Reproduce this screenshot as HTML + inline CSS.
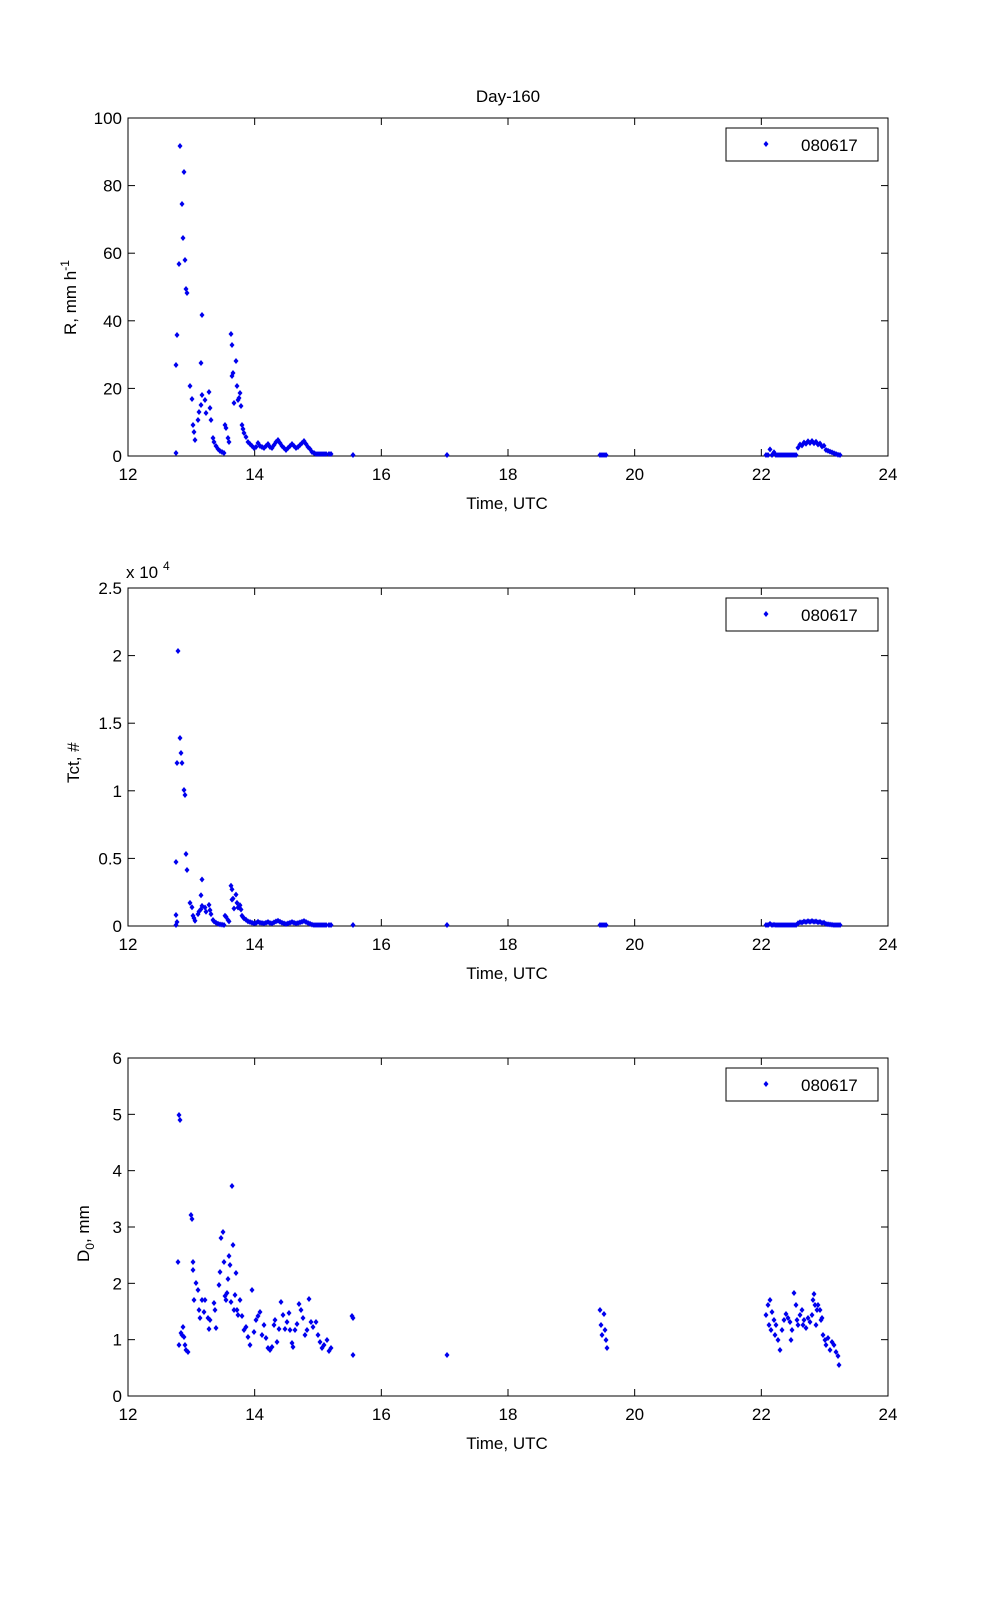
<!DOCTYPE html>
<html><head><meta charset="utf-8"><style>
body{margin:0;background:#fff;}
svg text{font-family:"Liberation Sans",sans-serif;font-size:17px;fill:#000;}
</style></head><body>
<svg id="s" width="1001" height="1600" xmlns="http://www.w3.org/2000/svg">
<rect width="1001" height="1600" fill="#fff"/>
<text x="508" y="102" text-anchor="middle">Day-160</text>
<g id="axes"></g>
<g id="pts" fill="#0000ee"></g>
</svg>
<script>
var NS="http://www.w3.org/2000/svg",ax=document.getElementById('axes'),pg=document.getElementById('pts');
function el(t,a,txt,p){var e=document.createElementNS(NS,t);for(var k in a)e.setAttribute(k,a[k]);if(txt!=null)e.textContent=txt;(p||ax).appendChild(e);return e;}
var X0=128,X1=888;
function dot(x,y){el('path',{d:'M'+x+' '+(y-3)+'L'+(x+2.5)+' '+y+'L'+x+' '+(y+3)+'L'+(x-2.5)+' '+y+'Z'},null,pg);}
function axis(top,bot,ylabels){
 el('rect',{x:X0,y:top,width:X1-X0,height:bot-top,fill:'none',stroke:'#000','stroke-width':1});
 for(var i=0;i<=6;i++){var x=X0+i*(X1-X0)/6;
  el('line',{x1:x,y1:bot,x2:x,y2:bot-7,stroke:'#000'});el('line',{x1:x,y1:top,x2:x,y2:top+7,stroke:'#000'});
  el('text',{x:x,y:bot+24,'text-anchor':'middle'},String(12+2*i));}
 var n=ylabels.length-1;
 for(var j=0;j<=n;j++){var y=bot-j*(bot-top)/n;
  el('line',{x1:X0,y1:y,x2:X0+7,y2:y,stroke:'#000'});el('line',{x1:X1,y1:y,x2:X1-7,y2:y,stroke:'#000'});
  el('text',{x:X0-6,y:y+6,'text-anchor':'end'},ylabels[j]);}
 el('text',{x:507,y:bot+53,'text-anchor':'middle'},'Time, UTC');
 el('rect',{x:726,y:top+10,width:152,height:33,fill:'#fff',stroke:'#000'});
 el('text',{x:801,y:top+33},'080617');
 dot(766,top+26);
}
axis(118,456,['0','20','40','60','80','100']);
axis(588,926,['0','0.5','1','1.5','2','2.5']);
axis(1058,1396,['0','1','2','3','4','5','6']);
el('text',{x:126,y:578},'x 10');el('text',{x:163,y:570,style:'font-size:12px'},'4');
var t=el('text',{transform:'translate(76,335) rotate(-90)'},'R, mm h');
el('tspan',{dy:-7,style:'font-size:12px'},'-1',t);
el('text',{transform:'translate(79,783) rotate(-90)'},'Tct, #');
var t3=el('text',{transform:'translate(89,1262) rotate(-90)'},'D');
el('tspan',{dy:5,style:'font-size:12px'},'0',t3);el('tspan',{dy:-5},', mm',t3);
var p1=[[176,453],[176,365],[177,335],[179,264],[180,146],[182,204],[183,238],[184,172],[185,260],[186,289],[187,293],[190,386],[192,399],[193,425],[194,432],[195,440],[198,420],[199,412],[201,405],[202,395],[201,363],[202,315],[205,400],[206,413],[209,392],[210,408],[211,420],[213,438],[214,442],[216,446],[218,449],[220,451],[222,452],[224,453],[225,425],[226,428],[228,438],[229,442],[231,334],[232,345],[236,361],[233,373],[232,376],[234,403],[237,386],[238,400],[239,398],[240,393],[241,406],[242,425],[243,429],[244,433],[246,437],[248,442],[250,444],[252,446],[254,448],[256,447],[258,443],[260,446],[262,447],[264,448],[266,446],[268,444],[270,447],[272,448],[274,445],[276,442],[278,440],[280,443],[282,446],[284,448],[286,450],[288,448],[290,446],[292,444],[294,446],[296,448],[298,447],[300,445],[302,443],[304,441],[306,444],[308,447],[310,449],[312,452],[314,453],[316,454],[318,454],[320,454],[322,454],[324,454],[326,454],[329,454],[331,454],[353,455],[447,455],[600,455],[602,455],[604,455],[606,455]];
for(var x=766;x<=840;x+=2){var v=455;if(x>768&&x<776)v=455-((x-766)%6)*1.4;if(x>796&&x<826)v=447-Math.sin((x-796)/30*Math.PI)*6+((x%4)?2:0);if(x>=826)v=450+(x-826)*0.4;p1.push([x,Math.min(455,v)]);}
p1.forEach(function(p){dot(p[0],p[1]);});
var pk=[[178,651],[180,738],[181,753],[182,763],[184,790],[185,795],[177,763],[176,862],[186,854],[187,870],[176,915],[177,922]];
pk.forEach(function(p){dot(p[0],p[1]);});
p1.forEach(function(p){if(p[0]<=187&&p[1]<380)return;var d=456-p[1];dot(p[0],Math.min(925,926-d*0.33));});
var p3=[[179,1115],[180,1120],[178,1262],[179,1345],[181,1333],[182,1335],[183,1327],[184,1337],[185,1345],[186,1350],[188,1352],[191,1215],[192,1219],[193,1262],[193,1270],[194,1300],[196,1283],[198,1290],[199,1310],[200,1318],[202,1300],[204,1312],[205,1300],[208,1318],[209,1329],[210,1320],[214,1303],[215,1310],[216,1328],[219,1285],[220,1272],[221,1238],[223,1232],[224,1262],[225,1296],[226,1300],[227,1293],[228,1279],[229,1256],[230,1265],[231,1302],[232,1186],[233,1245],[234,1310],[235,1295],[236,1273],[237,1310],[238,1315],[240,1300],[242,1316],[244,1330],[246,1327],[248,1337],[250,1345],[252,1290],[254,1332],[256,1320],[258,1316],[260,1312],[262,1335],[264,1325],[266,1338],[268,1348],[270,1350],[272,1347],[274,1325],[275,1320],[277,1342],[279,1329],[281,1302],[283,1315],[285,1329],[287,1322],[289,1313],[290,1330],[292,1343],[293,1347],[295,1330],[297,1324],[299,1304],[301,1310],[303,1318],[305,1335],[307,1330],[309,1299],[311,1322],[313,1327],[316,1322],[318,1335],[320,1342],[322,1348],[324,1345],[327,1340],[329,1351],[331,1348],[352,1316],[353,1318],[353,1355],[447,1355],[600,1310],[604,1314],[601,1325],[605,1330],[602,1335],[606,1340],[607,1348]];
var r3=[[766,1315],[768,1305],[769,1325],[770,1300],[771,1330],[772,1312],[774,1320],[775,1335],[776,1325],[778,1340],[780,1350],[782,1330],[784,1320],[786,1314],[788,1318],[790,1322],[791,1340],[792,1330],[794,1293],[796,1305],[797,1320],[798,1325],[800,1315],[802,1310],[803,1325],[804,1320],[806,1328],[808,1318],[810,1322],[812,1315],[813,1300],[814,1294],[815,1305],[816,1325],[817,1310],[818,1305],[820,1310],[821,1320],[822,1318],[823,1335],[825,1340],[826,1345],[828,1338],[830,1350],[832,1342],[834,1345],[836,1352],[838,1356],[839,1365]];
p3.concat(r3).forEach(function(p){dot(p[0],p[1]);});
</script>
</body></html>
